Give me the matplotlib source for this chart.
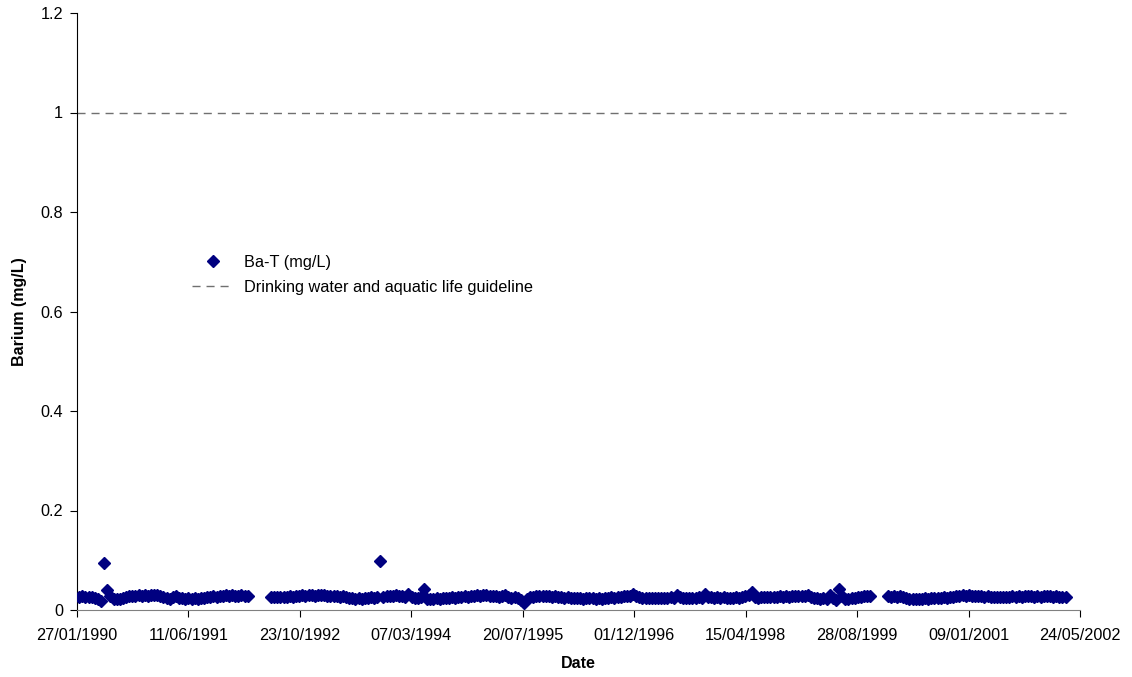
import matplotlib
matplotlib.use("Agg")
import matplotlib.pyplot as plt
import matplotlib.dates as mdates
import pandas as pd
from matplotlib.ticker import FuncFormatter

plt.rcParams['font.family'] = ['Liberation Sans', 'DejaVu Sans']

# sampling campaigns (approx. fortnightly)
seg_starts = ["1990-02-06", "1992-06-16", "2000-01-12"]
seg_counts = [55, 193, 58]

ba_seg1 = [0.027, 0.028, 0.026, 0.027, 0.026, 0.025, 0.022, 0.019, 0.095, 0.041,
           0.028, 0.022, 0.023, 0.022, 0.024, 0.026, 0.028, 0.029, 0.028, 0.030,
           0.029, 0.030, 0.029, 0.031, 0.030, 0.031, 0.029, 0.027, 0.025, 0.023,
           0.026, 0.028, 0.024, 0.025, 0.023, 0.024, 0.022, 0.024, 0.023, 0.025,
           0.024, 0.026, 0.027, 0.028, 0.027, 0.029, 0.028, 0.030, 0.029, 0.030,
           0.028, 0.029, 0.030, 0.029, 0.028]

ba_seg2 = [0.026, 0.027, 0.026, 0.027, 0.026, 0.027, 0.028, 0.027, 0.028, 0.029,
           0.030, 0.029, 0.031, 0.030, 0.029, 0.030, 0.031, 0.030, 0.029,
           0.028, 0.029, 0.028, 0.027, 0.028, 0.026, 0.025,
           0.024, 0.023, 0.024, 0.023, 0.024, 0.025, 0.026, 0.025, 0.027,
           0.098,
           0.027, 0.028, 0.029, 0.028, 0.030, 0.029, 0.028, 0.027, 0.033,
           0.026, 0.025, 0.024, 0.026, 0.042,
           0.022, 0.023, 0.022, 0.024, 0.023, 0.024, 0.025, 0.024, 0.026, 0.025, 0.026,
           0.027, 0.028, 0.027, 0.029, 0.028, 0.030, 0.029, 0.030, 0.031, 0.029,
           0.028, 0.029, 0.027, 0.028, 0.031,
           0.026, 0.025, 0.026, 0.024,
           0.021, 0.014, 0.022,
           0.026, 0.027, 0.028, 0.029, 0.028, 0.029, 0.028, 0.027, 0.028, 0.026, 0.027,
           0.025, 0.026, 0.025, 0.024, 0.025, 0.024, 0.023, 0.024, 0.025, 0.024,
           0.023, 0.024, 0.023, 0.024, 0.025, 0.026, 0.025, 0.026, 0.027,
           0.028, 0.029, 0.028, 0.032, 0.029, 0.027,
           0.025, 0.024, 0.025, 0.024, 0.025, 0.024, 0.025, 0.024, 0.025, 0.026, 0.025,
           0.031,
           0.026, 0.025, 0.024, 0.025, 0.024, 0.025, 0.026, 0.025,
           0.032,
           0.027, 0.026, 0.025, 0.026, 0.025, 0.026, 0.025, 0.024, 0.025, 0.026, 0.024,
           0.026, 0.028, 0.030, 0.036, 0.027,
           0.025, 0.026, 0.027, 0.026, 0.027, 0.026, 0.027, 0.028, 0.027, 0.028, 0.027,
           0.028, 0.029, 0.028, 0.029, 0.028, 0.031,
           0.026, 0.025, 0.024, 0.023, 0.024,
           0.022, 0.030, 0.025, 0.020, 0.042, 0.028, 0.022,
           0.023, 0.024, 0.025, 0.026, 0.027, 0.028, 0.029, 0.028]

ba_seg3 = [0.028, 0.027, 0.028, 0.027, 0.028, 0.026,
           0.025, 0.023, 0.022, 0.023, 0.022,
           0.023, 0.024, 0.023, 0.024, 0.025, 0.024, 0.025, 0.026, 0.025, 0.026, 0.027, 0.028,
           0.029, 0.031,
           0.029, 0.030, 0.029, 0.028, 0.029, 0.028, 0.027, 0.028, 0.027, 0.026, 0.027,
           0.026, 0.027, 0.026, 0.027, 0.028, 0.027, 0.028, 0.027, 0.028, 0.029, 0.028,
           0.027, 0.028, 0.027, 0.028, 0.029, 0.028, 0.027, 0.028, 0.026, 0.027, 0.026]

guideline = 1.0
tick_dates = ["27/01/1990", "11/06/1991", "23/10/1992", "07/03/1994", "20/07/1995",
              "01/12/1996", "15/04/1998", "28/08/1999", "09/01/2001", "24/05/2002"]
yticks = [0, 0.2, 0.4, 0.6, 0.8, 1.0, 1.2]

dates = []
for start, n in zip(seg_starts, seg_counts):
    dates.extend(pd.date_range(start, periods=n, freq="14D"))
values = ba_seg1 + ba_seg2 + ba_seg3
ticks = pd.to_datetime(tick_dates, format="%d/%m/%Y")

fig = plt.figure(figsize=(11.32, 6.77), dpi=100)
ax = fig.add_axes([77 / 1132, 1 - 610 / 677, (1080 - 77) / 1132, (610 - 13) / 677])

ax.plot(dates, values, linestyle="none", marker="D", markersize=6.3,
        color="#000080", label="Ba-T (mg/L)", zorder=3)
ax.plot([ticks[0], dates[-1]], [guideline, guideline], color="#707070", lw=1,
        linestyle=(0, (5.8, 4.3)), label="Drinking water and aquatic life guideline")

ax.set_xlim(ticks[0], ticks[-1])
ax.set_ylim(0, 1.2)
ax.set_xticks(ticks)
ax.xaxis.set_major_formatter(mdates.DateFormatter("%d/%m/%Y"))
ax.set_yticks(yticks)
ax.yaxis.set_major_formatter(FuncFormatter(lambda v, p: "%g" % v))
ax.tick_params(axis="both", direction="out", length=5, width=0.8, labelsize=11.7,
               colors="black", pad=5)
ax.tick_params(axis="x", pad=8)

for side in ["top", "right"]:
    ax.spines[side].set_visible(False)
ax.spines["bottom"].set_color("#808080")
ax.spines["left"].set_color("black")

ax.set_xlabel("Date", fontsize=11.5, fontweight="bold", labelpad=9)
ax.set_ylabel("Barium (mg/L)", fontsize=11.5, fontweight="bold", labelpad=10)

ax.legend(loc="upper left", bbox_to_anchor=(192 / 1132, 1 - 255 / 677),
          bbox_transform=fig.transFigure, frameon=False, fontsize=11.7,
          handlelength=2.6, handletextpad=0.6, labelspacing=0.62,
          borderpad=0, borderaxespad=0)

fig.savefig("out.png", dpi=100)
